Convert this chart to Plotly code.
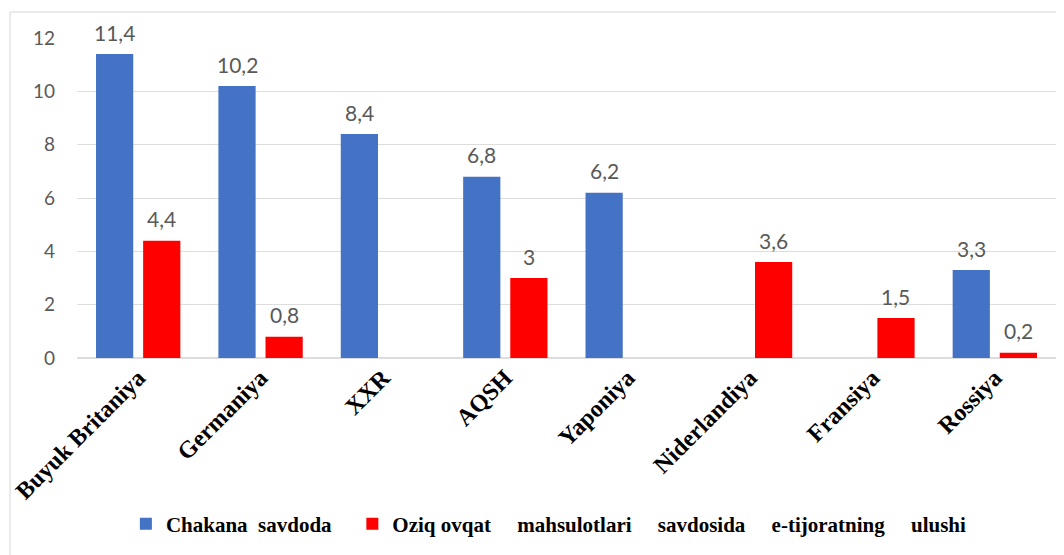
import plotly.graph_objects as go

categories = ["Buyuk Britaniya", "Germaniya", "XXR", "AQSH", "Yaponiya",
              "Niderlandiya", "Fransiya", "Rossiya"]
retail = [11.4, 10.2, 8.4, 6.8, 6.2, None, None, 3.3]
food = [4.4, 0.8, None, 3.0, None, 3.6, 1.5, 0.2]
series_names = ["Chakana\u00a0 savdoda\u00a0\u00a0\u00a0",
                "Oziq ovqat\u00a0\u00a0\u00a0\u00a0 mahsulotlari\u00a0\u00a0\u00a0\u00a0 savdosida"
                "\u00a0\u00a0\u00a0\u00a0 e-tijoratning\u00a0\u00a0\u00a0\u00a0 ulushi"]
series_colors = ["#4472C4", "#FF0000"]
y_ticks = [0, 2, 4, 6, 8, 10, 12]


def fmt(v):
    return ("%g" % v).replace(".", ",")


W, H = 1056, 547
ML, MR, MT, MB = 69, 8, 30, 197
BARGAP, BARGROUPGAP = 0.23, 0.21

label_font = dict(family="Lato, Open Sans, sans-serif", size=21, color="#595959")
tick_font = dict(family="Lato, Open Sans, sans-serif", size=19, color="#595959")

fig = go.Figure()
all_series = [retail, food]
for k, vals in enumerate(all_series):
    fig.add_trace(go.Bar(
        x=categories, y=vals, name=series_names[k],
        marker=dict(color=series_colors[k], line=dict(width=0)),
    ))

# value labels above the bars (placed at each bar's value, offset to its group slot)
cat_px = (W - ML - MR) / len(categories)
slot_px = cat_px * (1 - BARGAP) / len(all_series)
annotations = []
for k, vals in enumerate(all_series):
    for cat, v in zip(categories, vals):
        if v is None:
            continue
        annotations.append(dict(
            x=cat, y=v, xref="x", yref="y", text=fmt(v), showarrow=False,
            xshift=(k - (len(all_series) - 1) / 2) * slot_px, yshift=22,
            yanchor="middle", xanchor="center", font=label_font,
        ))

fig.update_layout(
    width=W, height=H,
    margin=dict(l=ML, r=MR, t=MT, b=MB),
    paper_bgcolor="white", plot_bgcolor="white",
    barmode="group", bargap=BARGAP, bargroupgap=BARGROUPGAP,
    showlegend=True,
    legend=dict(orientation="h", x=0.482, xanchor="center", y=-0.519, yanchor="middle",
                font=dict(family="Liberation Serif, Times New Roman, serif", size=21,
                          color="black", weight="bold"),
                itemwidth=30),
    xaxis=dict(tickangle=-45, showgrid=False, showline=False, ticks="", automargin=False,
               tickfont=dict(family="Liberation Serif, Times New Roman, serif", size=24,
                             color="black", weight="bold")),
    yaxis=dict(range=[0, 12], tickvals=y_ticks, showgrid=True, gridcolor="#DDDDDD",
               gridwidth=1, zeroline=True, zerolinecolor="#DDDDDD", ticks="",
               showline=False, ticklabelstandoff=21, automargin=False,
               tickfont=tick_font),
    annotations=annotations,
    shapes=[
        dict(type="line", xref="paper", yref="paper", x0=-0.0684, x1=1.004, y0=1.081, y1=1.081,
             line=dict(color="#E3E3E3", width=1.5)),
        dict(type="line", xref="paper", yref="paper", x0=-0.0684, x1=-0.0684, y0=1.081, y1=-0.62,
             line=dict(color="#E3E3E3", width=1.5)),
    ],
)

fig.write_html("out.html")
